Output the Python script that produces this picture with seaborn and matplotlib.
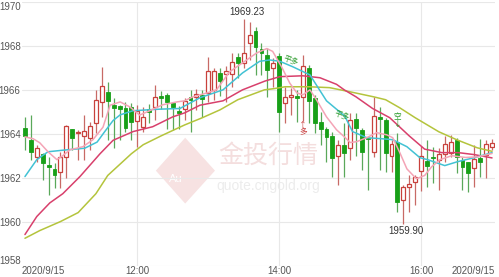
import numpy as np
import pandas as pd
import matplotlib
matplotlib.use("Agg")
import matplotlib.pyplot as plt
import seaborn as sns
from matplotlib.patches import Polygon

# ---- candle data (5-minute bars, 2020/9/15) ----
open_ = [1964.27, 1963.73, 1962.95, 1963.09, 1962.59, 1962.40, 1962.27, 1962.95, 1964.23, 1964.05,
         1963.91, 1963.82, 1964.50, 1965.45, 1965.91, 1965.32, 1965.27, 1965.18, 1965.23, 1964.59,
         1964.32, 1965.14, 1965.23, 1965.73, 1965.77, 1965.41, 1965.05, 1965.14, 1965.68, 1965.68,
         1965.77, 1965.86, 1966.00, 1966.77, 1966.73, 1966.73, 1967.50, 1967.23, 1968.14, 1968.68,
         1967.86, 1967.59, 1967.00, 1967.55, 1965.41, 1965.68, 1965.73, 1965.68, 1967.00, 1965.64,
         1964.55, 1964.23, 1963.91, 1963.00, 1963.50, 1963.36, 1964.68, 1964.18, 1963.82, 1963.18,
         1964.77, 1964.64, 1963.00, 1963.64, 1961.00, 1961.59, 1961.82, 1962.30, 1962.77, 1962.95,
         1962.82, 1963.09, 1963.14, 1963.73, 1962.82, 1962.73, 1962.45, 1962.91, 1963.05, 1963.41]
high = [1964.77, 1964.86, 1963.50, 1963.14, 1962.95, 1962.68, 1963.18, 1964.41, 1964.23, 1964.18,
        1964.86, 1964.55, 1966.00, 1967.05, 1966.36, 1965.64, 1965.32, 1965.45, 1965.41, 1965.32,
        1965.20, 1965.36, 1966.23, 1965.95, 1965.86, 1965.45, 1965.27, 1965.64, 1966.00, 1966.05,
        1966.00, 1967.50, 1967.00, 1967.00, 1967.09, 1967.68, 1967.68, 1969.23, 1969.09, 1968.86,
        1968.14, 1967.91, 1967.45, 1967.68, 1966.14, 1966.09, 1966.00, 1967.59, 1967.14, 1965.77,
        1965.00, 1964.32, 1964.09, 1963.73, 1964.50, 1964.95, 1964.95, 1964.27, 1963.86, 1965.68,
        1965.23, 1964.73, 1963.73, 1964.05, 1961.68, 1962.14, 1962.14, 1963.45, 1963.73, 1963.41,
        1963.36, 1963.91, 1963.95, 1963.82, 1962.95, 1962.73, 1963.50, 1963.77, 1963.73, 1963.77]
low = [1963.27, 1962.82, 1962.73, 1961.90, 1961.23, 1961.55, 1961.55, 1962.00, 1963.27, 1962.82,
       1962.82, 1963.27, 1964.05, 1964.77, 1963.73, 1963.36, 1963.73, 1964.09, 1963.73, 1963.41,
       1964.09, 1964.50, 1964.64, 1965.14, 1964.23, 1964.18, 1964.23, 1964.64, 1964.09, 1965.09,
       1964.77, 1965.45, 1965.55, 1965.73, 1965.45, 1966.14, 1966.55, 1967.00, 1967.36, 1966.68,
       1966.68, 1965.68, 1966.14, 1964.09, 1964.50, 1964.86, 1964.55, 1964.60, 1964.50, 1964.05,
       1963.50, 1962.73, 1962.05, 1961.68, 1962.05, 1962.82, 1963.00, 1962.36, 1961.45, 1962.95,
       1962.36, 1962.27, 1962.27, 1960.45, 1959.90, 1960.45, 1960.77, 1961.40, 1961.59, 1961.77,
       1961.45, 1962.73, 1962.95, 1962.23, 1961.45, 1961.36, 1961.59, 1962.05, 1962.00, 1963.27]
close = [1963.91, 1963.18, 1963.36, 1962.68, 1962.50, 1962.14, 1962.95, 1964.36, 1963.82, 1964.10,
         1964.14, 1964.36, 1965.55, 1966.18, 1965.50, 1965.18, 1965.14, 1964.27, 1964.55, 1965.05,
         1964.77, 1965.00, 1965.68, 1965.64, 1965.45, 1965.23, 1964.95, 1965.50, 1965.55, 1965.82,
         1965.59, 1966.86, 1966.86, 1966.41, 1966.86, 1967.27, 1967.23, 1967.68, 1968.50, 1967.95,
         1967.68, 1966.91, 1967.23, 1965.00, 1965.68, 1965.77, 1965.64, 1967.09, 1965.50, 1964.50,
         1964.23, 1963.86, 1962.91, 1963.50, 1963.14, 1964.64, 1964.27, 1963.18, 1963.77, 1964.82,
         1964.68, 1963.14, 1963.55, 1960.91, 1961.59, 1961.73, 1962.05, 1963.00, 1962.55, 1962.90,
         1963.09, 1963.55, 1963.64, 1962.95, 1962.50, 1962.23, 1962.86, 1962.73, 1963.55, 1963.59]

# ---- moving averages (bar index, value) ----
ma5_idx = [0, 1.4, 2.5, 3.9, 5.4, 6.4, 7.6, 9.8, 11.5, 13.2, 14.4, 16.1, 17.7, 19.4, 21.1, 23.3,
           25.7, 27, 28.4, 30.8, 32.4, 34.6, 36.8, 39.2, 40.9, 41.9, 43.4, 44.8, 46, 47, 48.2,
           49.3, 51, 52.7, 54.1, 55, 56.1, 57.8, 59.5, 61.2, 62.2, 63.4, 64.6, 66.2, 67.6, 68.8,
           70.2, 72.2, 74.5, 76.6, 79]
ma5_val = [1963.86, 1963.77, 1963.59, 1963.18, 1962.82, 1963.00, 1963.27, 1963.41, 1963.73, 1964.30,
           1965.30, 1965.45, 1965.23, 1964.85, 1965.05, 1965.32, 1965.45, 1965.50, 1965.68, 1965.86,
           1966.00, 1966.82, 1967.23, 1967.68, 1967.88, 1967.75, 1967.05, 1966.30, 1965.86, 1965.77,
           1966.00, 1965.55, 1964.77, 1964.18, 1963.84, 1963.60, 1963.64, 1963.82, 1964.05, 1963.95,
           1963.82, 1963.14, 1962.40, 1961.95, 1962.10, 1962.50, 1962.82, 1963.00, 1962.92, 1962.95,
           1963.10]
ma10_idx = [0, 2, 3.9, 6.4, 10.1, 12.2, 13.5, 14.9, 16.1, 18.3, 22.8, 26.2, 29.6, 33.5, 36.8,
            39.7, 41.4, 43.1, 45.3, 48.2, 51, 54.1, 55.4, 57.8, 60.5, 62.2, 64.6, 66.8, 68.1,
            71, 73.2, 76, 79]
ma10_val = [1962.05, 1962.82, 1963.18, 1963.25, 1963.34, 1963.62, 1964.10, 1964.60, 1964.86, 1965.05,
            1965.12, 1965.15, 1965.64, 1966.00, 1966.77, 1967.30, 1967.36, 1967.30, 1967.05, 1966.68,
            1965.50, 1964.80, 1964.10, 1963.82, 1963.77, 1963.73, 1963.41, 1962.91, 1962.82, 1962.55,
            1962.73, 1962.91, 1963.14]
ma20_idx = [0, 2, 4.2, 6.4, 9.3, 12.7, 14.9, 18.3, 21.6, 25, 27, 29.6, 33.5, 36.8, 40.6, 43.1,
            47, 49.9, 52.7, 54, 56, 58.8, 61.7, 65, 67.6, 70.5, 73.3, 76, 79]
ma20_val = [1959.41, 1960.23, 1960.85, 1961.27, 1962.05, 1963.09, 1963.70, 1964.10, 1964.32, 1964.77,
            1964.95, 1965.30, 1965.50, 1966.00, 1966.40, 1966.60, 1966.64, 1966.55, 1966.25, 1966.00,
            1965.68, 1965.15, 1964.73, 1963.90, 1963.30, 1963.14, 1963.14, 1963.05, 1962.90]
ma30_idx = [0, 2.5, 6, 9, 12, 14, 18, 20, 23, 27, 30, 33, 36, 40.5, 42, 44, 48, 51.5, 55, 59, 61,
            63.4, 66, 70, 73, 76.5, 79]
ma30_val = [1959.24, 1959.59, 1960.00, 1960.41, 1961.27, 1962.10, 1963.09, 1963.50, 1963.90, 1964.40,
            1964.73, 1965.09, 1965.55, 1966.00, 1966.05, 1966.14, 1966.14, 1966.10, 1965.91, 1965.68,
            1965.55, 1965.18, 1964.73, 1964.09, 1963.73, 1963.36, 1963.20]

y_ticks = [1958, 1960, 1962, 1964, 1966, 1968, 1970]
x_labels = ["2020/9/15", "12:00", "14:00", "16:00", "2020/9/15"]
times = pd.date_range("2020-09-15 10:25", periods=len(open_), freq="5min")

# ---- style ----
sns.set_theme(style="white")
plt.rcParams['font.family'] = ['Liberation Sans', 'DejaVu Sans', 'Noto Sans CJK SC']
cjk = ['Noto Sans CJK SC', 'DejaVu Sans']

UP_EDGE, UP_WICK = '#c8413c', '#c86a66'
DN_FACE, DN_WICK = '#18a018', '#5aa85a'
GRID = '#e8e8e8'
TXT = '#555555'

fig = plt.figure(figsize=(4.99, 2.77), dpi=100)
ax = fig.add_axes([22 / 499, 1 - 265.5 / 277, 473 / 499, 263.5 / 277])

df = pd.DataFrame({'time': times, 'open': open_, 'high': high, 'low': low, 'close': close})
df['i'] = np.arange(len(df))
up = df['close'] >= df['open']

# watermark
ax.text(0.52, 0.415, "金投行情", transform=ax.transAxes, ha='center', va='center',
        fontsize=18, color='#f4dede', family=cjk, zorder=0)
ax.text(0.52, 0.30, "quote.cngold.org", transform=ax.transAxes, ha='center', va='center',
        fontsize=10, color='#ececec', zorder=0)
ax.add_patch(Polygon([(0.283, 0.36), (0.345, 0.485), (0.408, 0.36), (0.345, 0.235)],
                     closed=True, transform=ax.transAxes, facecolor='#f7e2e2',
                     edgecolor='none', zorder=0))
ax.text(0.325, 0.33, "Au", transform=ax.transAxes, ha='center', va='center',
        fontsize=8, color='white', zorder=0)

# grid
for t in ["12:00", "14:00", "16:00"]:
    pos = df.index[df['time'].dt.strftime('%H:%M') == t][0]
    ax.axvline(pos, color=GRID, lw=0.8, zorder=0.5)
ax.set_yticks(y_ticks)
ax.yaxis.grid(True, color=GRID, lw=0.8, zorder=0.5)
ax.set_axisbelow(True)

# wicks
ax.vlines(df['i'][up], df['low'][up], df['high'][up], color=UP_WICK, lw=0.9, zorder=2)
ax.vlines(df['i'][~up], df['low'][~up], df['high'][~up], color=DN_WICK, lw=0.9, zorder=2)

# bodies
body_lo = np.minimum(df['open'], df['close'])
body_h = np.maximum(np.abs(df['close'] - df['open']), 0.04)
ax.bar(df['i'][up], body_h[up], bottom=body_lo[up], width=0.66,
       facecolor='white', edgecolor=UP_EDGE, linewidth=0.9, zorder=3)
ax.bar(df['i'][~up], body_h[~up], bottom=body_lo[~up], width=0.66,
       facecolor=DN_FACE, edgecolor=DN_FACE, linewidth=0.6, zorder=3)

# moving averages
for xs, ys, c in [(ma30_idx, ma30_val, '#b4c43c'),
                  (ma20_idx, ma20_val, '#d8406c'),
                  (ma10_idx, ma10_val, '#42c2d4'),
                  (ma5_idx, ma5_val, '#f4a4b6')]:
    sns.lineplot(x=xs, y=ys, ax=ax, color=c, lw=1.1, zorder=4, sort=False, estimator=None)

# high / low annotations
imax = int(np.argmax(high))
imin = int(np.argmin(low))
ax.annotate(f"{high[imax]:.2f}", xy=(imax, high[imax]), xytext=(3, 2),
            textcoords='offset pixels', ha='center', va='bottom', fontsize=7, color='#333333', zorder=6)
ax.annotate(f"{low[imin]:.2f}", xy=(imin, low[imin]), xytext=(3, -2),
            textcoords='offset pixels', ha='center', va='top', fontsize=7, color='#333333', zorder=6)

# trade signals
ax.text(45, 1967.3, "平多", family=cjk, fontsize=5.5, color='#2a9a2a', rotation=-20,
        ha='center', va='center', zorder=6)
ax.text(53.6, 1964.8, "平多", family=cjk, fontsize=5.5, color='#2a9a2a', rotation=-20,
        ha='center', va='center', zorder=6)
ax.text(47, 1964.6, "↑\n多", family=cjk, fontsize=5.5, color='#c83c3c', linespacing=0.9,
        ha='center', va='top', zorder=6)
ax.text(63, 1964.6, "空\n↓", family=cjk, fontsize=5.5, color='#2a9a2a', linespacing=0.9,
        ha='center', va='center', zorder=6)

# axes formatting
ax.set_xlim(-0.5, len(df) - 0.5)
ax.set_ylim(1958, 1970)
ax.set_xlabel("")
ax.set_ylabel("")
for s in ax.spines.values():
    s.set_visible(False)

xt = [-0.5] + [int(df.index[df['time'].dt.strftime('%H:%M') == t][0]) for t in ["12:00", "14:00", "16:00"]] + [len(df) - 0.5]
ax.set_xticks(xt)
ax.set_xticklabels(x_labels)
ax.set_yticklabels([str(v) for v in y_ticks])
ax.tick_params(axis='both', length=0, labelsize=7, colors=TXT)
ax.tick_params(axis='y', pad=1)
ax.tick_params(axis='x', pad=0.5)
xl = ax.get_xticklabels()
xl[0].set_ha('left')
xl[-1].set_ha('right')
yl = ax.get_yticklabels()
yl[0].set_va('bottom')
yl[-1].set_va('top')

fig.savefig("out.png", dpi=100, facecolor='white')
